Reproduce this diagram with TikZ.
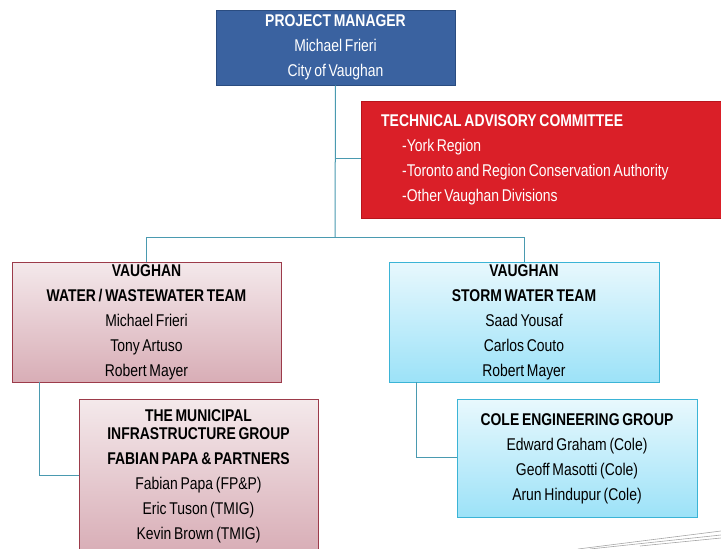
\documentclass[tikz,border=0pt]{standalone}
\usepackage{fontspec}
\setmainfont{Liberation Sans}[FakeStretch=0.82,WordSpace=0.7]
\definecolor{pmblue}{HTML}{3A62A0}
\definecolor{pmborder}{HTML}{2A4C80}
\definecolor{tacred}{HTML}{DA1F28}
\definecolor{tacborder}{HTML}{B8141C}
\definecolor{pinktop}{HTML}{F4E9EB}
\definecolor{pinkbot}{HTML}{D8ADB6}
\definecolor{pinkborder}{HTML}{9C3B4A}
\definecolor{bluetop}{HTML}{E8F8FD}
\definecolor{bluebot}{HTML}{9CE2F8}
\definecolor{blueborder}{HTML}{3BB4D6}
\definecolor{conn}{HTML}{4A9AB0}
\begin{document}
\begin{tikzpicture}[x=1pt,y=-1pt,
  txt/.style={font=\fontsize{17}{25}\selectfont},
  pmbox/.style={txt,draw=pmborder,fill=pmblue,text=white,align=center,inner sep=0pt,line width=0.8pt},
  tacbox/.style={draw=tacborder,fill=tacred,inner sep=0pt,line width=0.8pt},
  tactext/.style={txt,text=white,align=left,inner sep=0pt},
  pinkbox/.style={txt,draw=pinkborder,top color=pinktop,bottom color=pinkbot,text=black,align=center,inner sep=0pt,line width=0.8pt},
  bluebox/.style={txt,draw=blueborder,top color=bluetop,bottom color=bluebot,text=black,align=center,inner sep=0pt,line width=0.8pt},
  link/.style={draw=conn,line width=1pt}
]
\useasboundingbox (0,0) rectangle (721,549);
\begin{scope}
\clip (0,0) rectangle (721,549);
\node[pmbox,minimum width=239pt,minimum height=75pt] (pm) at (335.5,47.5)
  {\textbf{PROJECT MANAGER}\\Michael Frieri\\City of Vaughan};
\node[tacbox,minimum width=364pt,minimum height=117pt,anchor=north west] (tac) at (361,101) {};
\node[tactext,anchor=west] (tact) at (381,159.5)
  {\textbf{TECHNICAL ADVISORY COMMITTEE}\\
   \hspace*{21pt}-York Region\\
   \hspace*{21pt}-Toronto and Region Conservation Authority\\
   \hspace*{21pt}-Other Vaughan Divisions};
\node[pinkbox,minimum width=269pt,minimum height=120pt] (ww) at (146.5,322)
  {\textbf{VAUGHAN}\\\textbf{WATER / WASTEWATER TEAM}\\Michael Frieri\\Tony Artuso\\Robert Mayer};
\node[bluebox,minimum width=270pt,minimum height=120pt] (sw) at (524,322)
  {\textbf{VAUGHAN}\\\textbf{STORM WATER TEAM}\\Saad Yousaf\\Carlos Couto\\Robert Mayer};
\node[pinkbox,minimum width=239pt,minimum height=154pt,anchor=north] (tmig) at (198.5,399)
  {\textbf{THE MUNICIPAL}\\[-7pt]\textbf{INFRASTRUCTURE GROUP}\\\textbf{FABIAN PAPA \& PARTNERS}\\Fabian Papa (FP\&P)\\Eric Tuson (TMIG)\\Kevin Brown (TMIG)};
\node[bluebox,minimum width=240pt,minimum height=118pt,anchor=north] (cole) at (577,399)
  {\textbf{COLE ENGINEERING GROUP}\\Edward Graham (Cole)\\Geoff Masotti (Cole)\\Arun Hindupur (Cole)};
\coordinate (j1) at (335,158);
\coordinate (j2) at (335,237);
\coordinate (l1) at (146.5,237);
\coordinate (r1) at (524,237);
\draw[link] (pm.south) -- (j2);
\draw[link] (j1) -- (j1 -| tac.west);
\draw[link] (l1) -- (r1);
\draw[link] (l1) -- (l1 |- ww.north);
\draw[link] (r1) -- (r1 |- sw.north);
\coordinate (wwl) at (39,382);
\coordinate (swl) at (416,382);
\draw[link] (wwl) |- (39,475) -- (39,475 -| tmig.west);
\draw[link] (swl) |- (416,457) -- (416,457 -| cole.west);
\draw[gray!70,line width=0.6pt] (578,549) -- (721,531);
\draw[gray!70,line width=0.6pt] (590,549) -- (721,535);
\draw[gray!70,line width=0.6pt] (640,546) -- (721,538);
\end{scope}
\end{tikzpicture}
\end{document}
